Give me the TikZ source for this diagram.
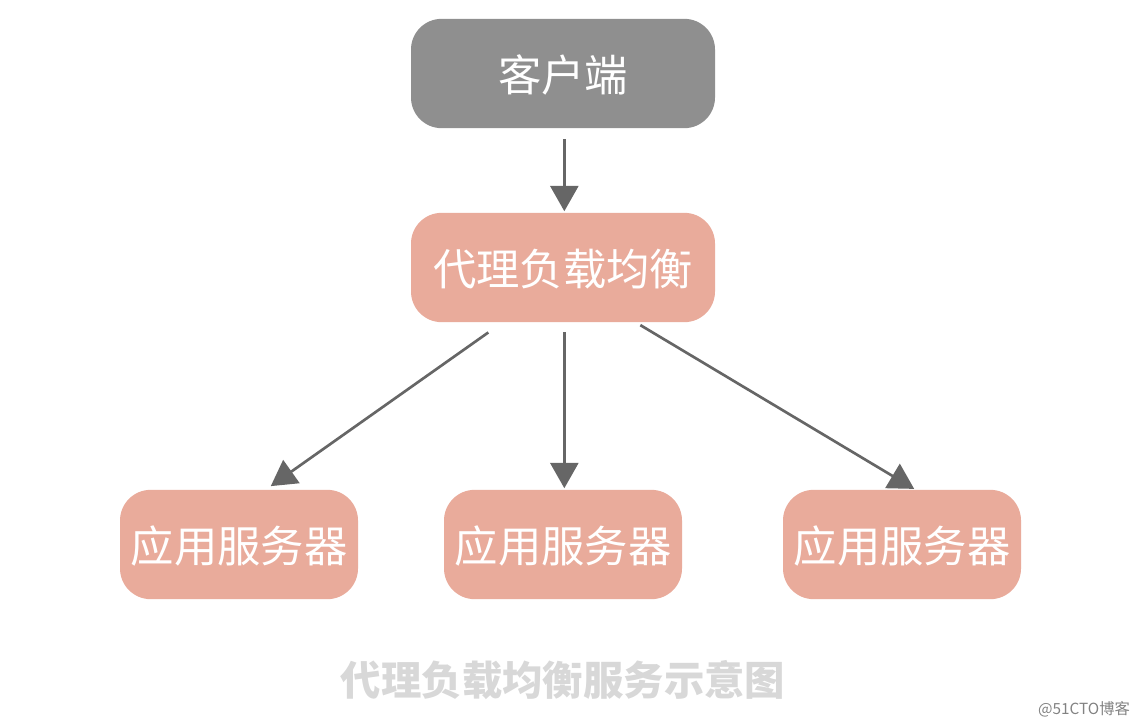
\documentclass[tikz,border=0pt]{standalone}
\usepackage{fontspec}
\setmainfont{Noto Sans CJK SC}
\usetikzlibrary{arrows.meta}
\definecolor{boxgray}{RGB}{143,143,143}
\definecolor{boxsalmon}{RGB}{233,171,155}
\definecolor{arrowgray}{RGB}{102,102,102}
\definecolor{captiongray}{RGB}{216,216,216}
\definecolor{markgray}{RGB}{130,130,130}
\tikzset{
  box/.style={rounded corners=23pt,text=white,font=\fontsize{32.5}{33}\selectfont,inner sep=0pt,text height=28pt,text depth=1pt},
  wide/.style={box,minimum width=228pt,minimum height=82pt},
  narrow/.style={box,minimum width=178.5pt,minimum height=82pt,fill=boxsalmon},
  link/.style={draw=arrowgray,line width=2pt,-{Triangle[length=19pt,width=21pt]},shorten >=1pt}
}

\begin{document}
\begin{tikzpicture}[x=.75pt,y=-.75pt]
        \useasboundingbox (0,0) rectangle (1142,726);

        \node[wide,fill=boxgray] (client) at (563,73.5) {客户端};
        \node[wide,fill=boxsalmon] (proxy) at (563,267.5) {代理负载均衡};
        \node[narrow] (appA) at (239,544.5) {应用服务器};
        \node[narrow] (appB) at (563,544.5) {应用服务器};
        \node[narrow] (appC) at (902,544.5) {应用服务器};

        \node[text=captiongray,font=\fontsize{30.3}{31}\selectfont\bfseries] (caption) at (563,680) {代理负载均衡服务示意图};
        \node[text=markgray,font=\fontsize{11.5}{12}\selectfont] (mark) at (1084,709) {@51CTO博客};

        \draw[link] ([shift={(1pt,-8pt)}]client.south) -- ([xshift=1pt]proxy.north);
        \draw[link] ([shift={(-56pt,-7.5pt)}]proxy.south) -- ([shift={(23pt,2pt)}]appA.north);
        \draw[link] ([shift={(1pt,-7.5pt)}]proxy.south) -- ([xshift=1pt]appB.north);
        \draw[link] ([shift={(58pt,-2pt)}]proxy.south) -- ([xshift=10pt]appC.north);
      \end{tikzpicture}
\end{document}
